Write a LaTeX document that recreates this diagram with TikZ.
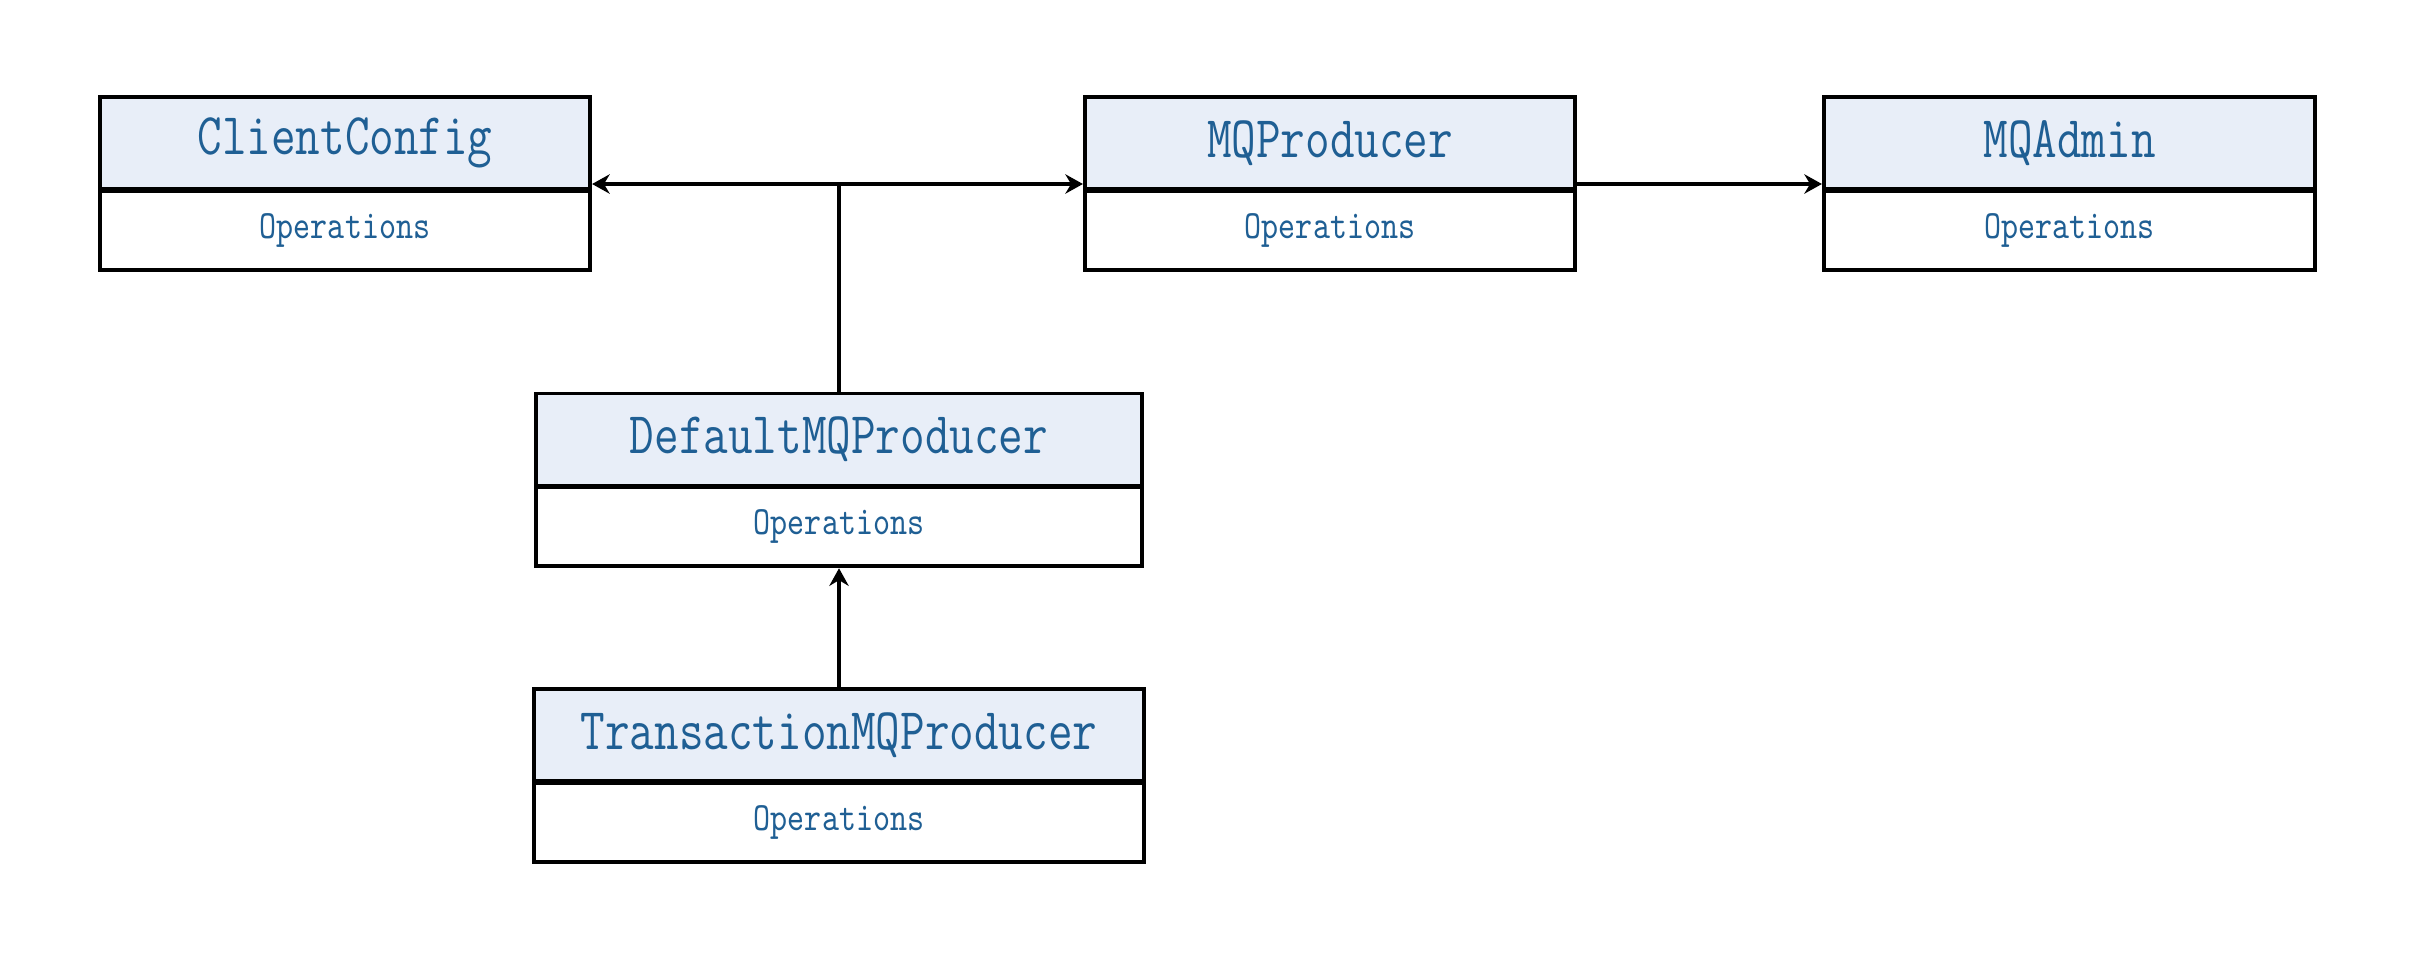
\documentclass[tikz,border=0pt]{standalone}
\usepackage{tikz}
\usepackage{graphicx}
\usetikzlibrary{positioning,arrows.meta}

\definecolor{clsblue}{HTML}{1F5F94}
\definecolor{clsfill}{HTML}{E8EEF8}

% class name and operations, a bit taller than wide like the original font
\newcommand{\tallname}[1]{\scalebox{0.97}[1.2]{#1}}

\tikzset{
    clshead/.style={draw, line width=1.1pt, fill=clsfill, text=clsblue, minimum height=0.92cm, inner sep=0pt, font=\fontsize{14}{16}\selectfont\ttfamily},
    clsops/.style={draw, line width=1.1pt, fill=white, text=clsblue, minimum height=0.79cm, inner sep=0pt, font=\fontsize{9.5}{11}\selectfont\ttfamily},
    link/.style={line width=0.9pt, -{Stealth[length=5pt,width=5.5pt]}}
}

\begin{document}
\begin{tikzpicture}[x=0.01cm, y=0.01cm]
    \useasboundingbox (0,0) rectangle (2410,953);

    \node[clshead, minimum width=4.9cm] (cchead) at (345,810) {\tallname{ClientConfig}};
    \node[clsops, minimum width=4.9cm, below=-0.6pt of cchead] (ccops) {\tallname{Operations}};

    \node[clshead, minimum width=4.9cm] (mqphead) at (1330,810) {\tallname{MQProducer}};
    \node[clsops, minimum width=4.9cm, below=-0.6pt of mqphead] (mqpops) {\tallname{Operations}};

    \node[clshead, minimum width=4.91cm] (admhead) at (2069.5,810) {\tallname{MQAdmin}};
    \node[clsops, minimum width=4.91cm, below=-0.6pt of admhead] (admops) {\tallname{Operations}};

    \node[clshead, minimum width=6.06cm] (defhead) at (839,513.5) {\tallname{DefaultMQProducer}};
    \node[clsops, minimum width=6.06cm, below=-0.6pt of defhead] (defops) {\tallname{Operations}};

    \node[clshead, minimum width=6.09cm] (trhead) at (839,218) {\tallname{TransactionMQProducer}};
    \node[clsops, minimum width=6.09cm, below=-0.6pt of trhead] (trops) {\tallname{Operations}};

    \coordinate (j) at (839,769);

    \draw[line width=0.9pt] (defhead.north) -- (j);
    \draw[link] (j) -- (j -| cchead.east);
    \draw[link] (j) -- (j -| mqphead.west);
    \draw[link] (j -| mqphead.east) -- (j -| admhead.west);
    \draw[link] (trhead.north) -- (defops.south);
\end{tikzpicture}
\end{document}
